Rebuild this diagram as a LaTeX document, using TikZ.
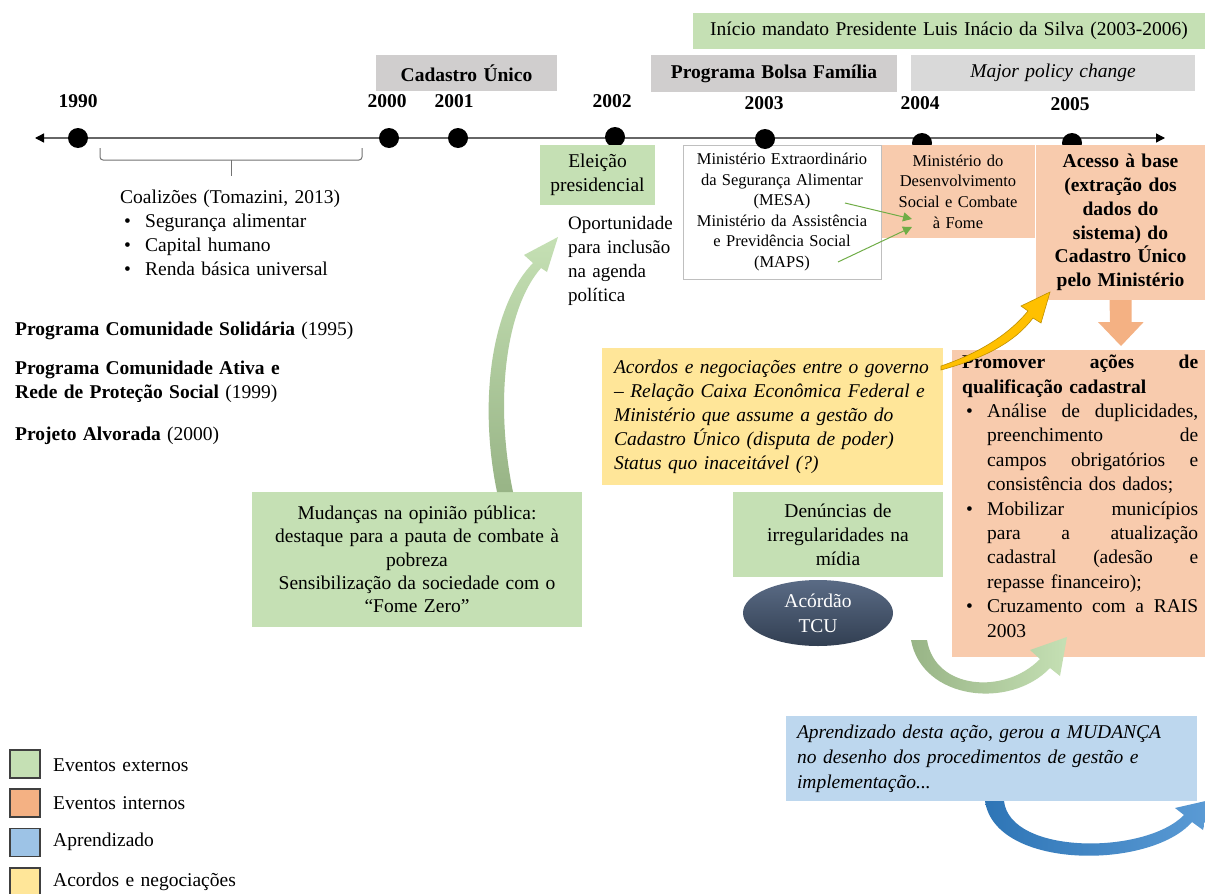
\documentclass[tikz,border=0pt]{standalone}
\usepackage{fontspec}
\setmainfont{Liberation Serif}[WordSpace=1.3]
\usetikzlibrary{arrows.meta,shapes.geometric}

\definecolor{gExt}{HTML}{C5E0B4}
\definecolor{gExtDark}{HTML}{98B486}
\definecolor{oInt}{HTML}{F8CBAD}
\definecolor{oLeg}{HTML}{F4B183}
\definecolor{bLearn}{HTML}{BDD7EE}
\definecolor{bLeg}{HTML}{9DC3E6}
\definecolor{yNeg}{HTML}{FFE699}
\definecolor{grayA}{HTML}{D0CECE}
\definecolor{grayB}{HTML}{D9D9D9}
\definecolor{gold}{HTML}{FFC000}
\definecolor{goldD}{HTML}{BF9000}
\definecolor{slateTop}{HTML}{5A6B85}
\definecolor{slateBot}{HTML}{323F52}
\definecolor{arrowG}{HTML}{70AD47}
\definecolor{blueA}{HTML}{2E75B6}
\definecolor{blueB}{HTML}{5B9BD5}

\newcommand{\fs}[2]{\fontsize{#1}{#2}\selectfont}
\newcommand{\bul}{\makebox[25pt][l]{\hspace{4pt}\textbullet}}
\newcommand{\ind}{\hspace*{25pt}}
\newcommand{\jl}[1]{\makebox[211pt][s]{#1}}

\begin{document}
\begin{tikzpicture}[x=1pt,y=-1pt,
  every node/.style={inner sep=0pt, font=\fs{19.5}{24}},
  box/.style={rectangle, align=center},
  yearlbl/.style={font=\fs{19.5}{24}\bfseries},
  tdot/.style={circle, fill=black, minimum size=20pt},
  legsq/.style={draw=black!75, line width=1.2pt, minimum width=30pt, minimum height=28pt},
  legtxt/.style={anchor=west},
  thinarrow/.style={arrowG, line width=1pt, -{Triangle[length=9pt,width=9pt]}},
]
\useasboundingbox (0,0) rectangle (1205,894);
\fill[white] (0,0) rectangle (1205,894);

% ---- header bands ----
\node[box, fill=gExt, minimum width=512pt, minimum height=36pt] (mandato) at (949,31)
  {Início mandato Presidente Luis Inácio da Silva (2003-2006)};
\node[box, fill=grayA, minimum width=181pt, minimum height=36pt] (cad) at (466.5,73)
  {\bfseries Cadastro Único};
\node[box, fill=grayA, minimum width=246pt, minimum height=37pt] (pbf) at (774,73.5)
  {\bfseries Programa Bolsa Família};
\node[box, fill=grayB, minimum width=284pt, minimum height=36pt] (mpc) at (1053,73)
  {\itshape Major policy change};

% ---- timeline ----
\coordinate (tl) at (35,138);
\coordinate (tr) at (1165,138);
\draw[line width=1.3pt, black!60,
  {Triangle[length=9pt,width=9pt,color=black]}-{Triangle[length=9pt,width=9pt,color=black]}] (tl) -- (tr);

\node[yearlbl] (y1990) at (78,101) {1990};
\node[yearlbl] (y2000) at (387,101) {2000};
\node[yearlbl] (y2001) at (454,101) {2001};
\node[yearlbl] (y2002) at (612,101) {2002};
\node[yearlbl] (y2003) at (764,103) {2003};
\node[yearlbl] (y2004) at (920,103) {2004};
\node[yearlbl] (y2005) at (1070,104) {2005};

\node[tdot] (d1990) at (78,138) {};
\node[tdot] (d2000) at (389,138) {};
\node[tdot] (d2001) at (458,138) {};
\node[tdot] (d2002) at (615,137) {};
\node[tdot] (d2004) at (922,143) {};
\node[tdot] (d2005) at (1072,143) {};

% ---- 1990s bracket and coalitions ----
\coordinate (brL) at (100,148);
\coordinate (brR) at (362,148);
\coordinate (brMid) at (231,160);
\coordinate (brTip) at (231,176);
\draw[black!55, line width=1pt, rounded corners=3pt] (brL) -- (100,160) -- (362,160) -- (brR);
\draw[black!55, line width=1pt] (brMid) -- (brTip);

\node[anchor=north west, align=left] (coal) at (120,190)
  {Coalizões (Tomazini, 2013)\\
   \bul Segurança alimentar\\
   \bul Capital humano\\
   \bul Renda básica universal};

\node[anchor=west] (pcs) at (15,331) {\textbf{Programa Comunidade Solidária} (1995)};
\node[anchor=north west, align=left] (pca) at (15,361)
  {\textbf{Programa Comunidade Ativa e}\\ \textbf{Rede de Proteção Social} (1999)};
\node[anchor=west] (palv) at (15,436) {\textbf{Projeto Alvorada} (2000)};

% ---- 2002 ----
\node[box, fill=gExt, minimum width=115pt, minimum height=60pt] (eleicao) at (597.5,175)
  {Eleição\\presidencial};
\node[anchor=north west, align=left, font=\fs{19}{24}] (oport) at (568,216)
  {Oportunidade\\para inclusão\\na agenda\\política};

% ---- 2003 ministries ----
\node[box, fill=white, draw=black!25, line width=1pt, minimum width=198pt, minimum height=134pt,
      font=\fs{16.5}{20.6}] (mesa) at (782,212)
  {Ministério Extraordinário\\da Segurança Alimentar\\(MESA)\\Ministério da Assistência\\e Previdência Social\\(MAPS)};
\node[tdot] (d2003) at (765,139) {};

\node[box, fill=oInt, minimum width=153pt, minimum height=93pt, font=\fs{16.5}{20.6}] (mds) at (958,191.5)
  {Ministério do\\Desenvolvimento\\Social e Combate\\à Fome};

\coordinate (mesaA) at (845,203);
\coordinate (mesaB) at (838,262);
\coordinate (mdsA) at (912,219);
\coordinate (mdsB) at (912,227);
\draw[thinarrow] (mesaA) -- (mdsA);
\draw[thinarrow] (mesaB) -- (mdsB);

% ---- 2005: access to the base ----
\node[box, fill=oInt, minimum width=169pt, minimum height=155pt, font=\fs{19.5}{23.8}\bfseries] (acesso) at (1120.5,222.5)
  {Acesso à base\\(extração dos\\dados do\\sistema) do\\Cadastro Único\\pelo Ministério};

\node[rectangle, fill=oInt, minimum width=253pt, minimum height=307pt] (promover) at (1078.5,503.5) {};
\node[anchor=north west, align=left, font=\fs{19.5}{24.4}] (promtxt) at (962,355)
  {\makebox[236pt][s]{\textbf{Promover ações de}}\\
   \textbf{qualificação cadastral}\\
   \bul\jl{Análise de duplicidades,}\\
   \ind\jl{preenchimento de}\\
   \ind\jl{campos obrigatórios e}\\
   \ind consistência dos dados;\\
   \bul\jl{Mobilizar municípios}\\
   \ind\jl{para a atualização}\\
   \ind\jl{cadastral (adesão e}\\
   \ind repasse financeiro);\\
   \bul\jl{Cruzamento com a RAIS}\\
   \ind 2003};

\fill[oLeg] (acesso.south) ++(-11,0) -- ++(22,0) -- ++(0,22) -- ++(12,0)
  -- (1121,346) -- (1098,322) -- (1110,322) -- cycle;

% ---- negotiations ----
\node[box, fill=yNeg, minimum width=341pt, minimum height=137pt, align=left, text width=317pt,
      font=\fs{19.5}{24}\itshape] (acordos) at (772.5,416.5)
  {Acordos e negociações entre o governo\\
   -- Relação Caixa Econômica Federal e\\
   Ministério que assume a gestão do\\
   Cadastro Único (disputa de poder)\\
   Status quo inaceitável (?)};

\draw[goldD, fill=gold, line width=0.6pt]
  (941,370) .. controls (985,358) and (1015,342) .. (1033,318) -- (1041,323) -- (1050,292)
  -- (1021,306) -- (1028,311) .. controls (1010,333) and (982,352) .. (941,366) -- cycle;

% ---- media reports and TCU ----
\node[box, fill=gExt, minimum width=210pt, minimum height=85pt] (denuncias) at (838,534.5)
  {Denúncias de\\irregularidades na\\mídia};
\node[ellipse, top color=slateTop, bottom color=slateBot, minimum width=150pt, minimum height=66pt,
      text=white, align=center, font=\fs{19.5}{25}] (tcu) at (818,613) {Acórdão\\TCU};

\shade[left color=gExtDark, right color=gExt]
  (911,640) .. controls (922,700) and (1010,710) .. (1050,668) -- (1060,676) -- (1067,637)
  -- (1030,650) -- (1040,659) .. controls (1005,695) and (935,690) .. (927,640) -- cycle;

% ---- public opinion ----
\node[box, fill=gExt, minimum width=330pt, minimum height=135pt, font=\fs{19.5}{23.3}] (opiniao) at (417,559.5)
  {Mudanças na opinião pública:\\destaque para a pauta de combate à\\pobreza\\
   Sensibilização da sociedade com o\\``Fome Zero''};

\shade[bottom color=gExtDark, top color=gExt]
  (497,492) .. controls (478,400) and (492,305) .. (533,263) -- (524,255) -- (558,237)
  -- (547,272) -- (541,268) .. controls (506,308) and (494,400) .. (513,492) -- cycle;

% ---- learning ----
\node[box, fill=bLearn, minimum width=411pt, minimum height=85pt, align=left, text width=389pt,
      font=\fs{19.5}{25}\itshape] (aprend) at (991.5,758.5)
  {Aprendizado desta ação, gerou a MUDANÇA\\
   no desenho dos procedimentos de gestão e\\
   implementação...};

\shade[left color=blueA, right color=blueB]
  (985,801) .. controls (995,870) and (1150,870) .. (1192,822) -- (1203,830) -- (1210,800)
  -- (1175,808) -- (1184,815) .. controls (1145,855) and (1010,855) .. (1004,801) -- cycle;

% ---- legend ----
\node[legsq, fill=gExt] (lg1) at (25,764) {};
\node[legsq, fill=oLeg] (lg2) at (25,803) {};
\node[legsq, fill=bLeg] (lg3) at (25,842.5) {};
\node[legsq, fill=yNeg] (lg4) at (25,882) {};
\node[legtxt] (lt1) at (53,765) {Eventos externos};
\node[legtxt] (lt2) at (53,803) {Eventos internos};
\node[legtxt] (lt3) at (53,842) {Aprendizado};
\node[legtxt] (lt4) at (53,882) {Acordos e negociações};
\end{tikzpicture}
\end{document}
